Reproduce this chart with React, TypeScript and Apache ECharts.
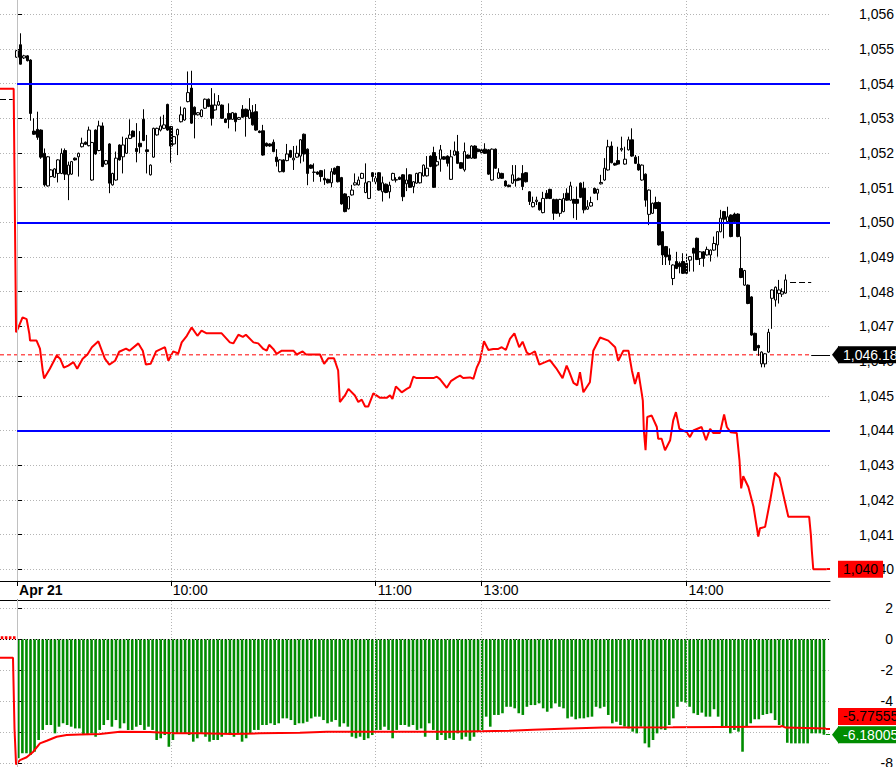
import React, { useEffect, useRef } from 'react';
import * as echarts from 'echarts';

// ---------- DATA ----------
// x slots: one per minute bar, slot 0 = 09:15 (Apr 21), lunch break compressed (13:00 = slot 136)
const slotMin = -5;
const slotMax = 238;
const timeTickSlots = [0, 45, 105, 136, 196];
const timeTickLabels = ['Apr 21', '10:00', '11:00', '13:00', '14:00'];

const priceTicks = [1040, 1041, 1042, 1043, 1044, 1045, 1046, 1047, 1048, 1049, 1050, 1051, 1052, 1053, 1054, 1055, 1056];
const lowerTicks = [2, 0, -2, -4, -6, -8];

const blueLevels = [1054, 1050, 1044];
const refLevel = 1046.18;
const refLabel = '1,046.18';
const lastCandleLevel = 1048.28;
const prevCloseLevel = 1053.56;
const redLastValue = 1040;
const redLastLabel = '1,040';
const lowerRedLast = -5.77555;
const lowerBarLast = -6.18005;

// candles [open, close, low, high], slot 0..225
const candles: number[][] = [
  [1054.76,1054.95,1054.74,1054.97],[1055.12,1054.56,1054.55,1055.45],[1054.74,1054.80,1054.71,1054.83],[1054.80,1054.66,1054.64,1054.82],
  [1054.68,1053.14,1052.93,1054.70],[1052.63,1052.54,1052.52,1053.00],[1052.68,1052.45,1052.38,1053.19],[1052.66,1051.88,1051.83,1052.68],
  [1051.99,1051.08,1051.03,1052.13],[1051.05,1051.89,1051.03,1051.91],[1051.32,1051.51,1051.30,1051.53],[1051.30,1051.54,1051.28,1051.56],
  [1051.41,1051.80,1051.15,1051.82],[1051.41,1051.99,1051.39,1052.13],[1052.07,1051.39,1051.22,1052.13],[1051.37,1051.65,1050.64,1051.75],
  [1051.39,1051.75,1051.37,1051.77],[1051.85,1051.80,1051.78,1051.87],[1051.89,1051.99,1051.32,1052.01],[1052.18,1052.28,1052.16,1052.44],
  [1052.31,1052.25,1052.23,1052.33],[1052.21,1052.66,1052.19,1052.76],[1051.22,1052.30,1051.20,1052.32],[1052.66,1051.97,1051.95,1052.68],
  [1052.07,1052.78,1052.05,1052.93],[1052.78,1051.61,1051.59,1052.88],[1051.68,1051.78,1051.66,1051.80],[1052.26,1051.13,1050.84,1052.28],
  [1051.08,1051.41,1051.06,1051.43],[1051.22,1051.85,1051.20,1052.04],[1052.23,1051.80,1051.78,1052.25],[1051.89,1052.23,1051.41,1052.47],
  [1051.99,1052.42,1051.97,1052.44],[1052.42,1052.52,1052.40,1052.97],[1052.63,1052.47,1052.45,1052.65],[1052.13,1052.04,1051.73,1052.86],
  [1052.28,1052.18,1051.99,1052.63],[1052.97,1052.36,1052.34,1053.26],[1052.09,1052.04,1051.41,1052.52],[1051.37,1051.65,1051.35,1051.67],
  [1051.88,1052.71,1051.86,1052.73],[1052.52,1052.71,1052.50,1052.73],[1052.66,1052.78,1052.62,1053.05],[1052.71,1052.81,1052.69,1053.10],
  [1053.40,1052.66,1052.64,1053.42],[1052.76,1052.20,1051.72,1052.78],[1052.26,1052.47,1052.24,1052.49],[1052.52,1052.68,1051.94,1052.70],
  [1052.90,1053.10,1052.88,1053.34],[1052.95,1053.29,1052.93,1053.31],[1053.48,1053.74,1053.46,1054.35],[1053.87,1052.86,1052.84,1054.37],
  [1053.32,1053.10,1052.42,1053.34],[1053.10,1053.16,1053.08,1053.18],[1053.05,1053.24,1053.03,1053.26],[1053.29,1053.55,1053.27,1053.57],
  [1053.55,1053.34,1053.32,1053.57],[1053.38,1053.00,1052.79,1053.87],[1053.24,1053.38,1053.22,1053.72],[1053.38,1053.48,1053.36,1053.67],
  [1053.38,1053.00,1052.98,1053.40],[1052.98,1052.88,1052.86,1053.00],[1053.14,1052.97,1052.71,1053.43],[1052.97,1053.16,1052.95,1053.18],
  [1053.14,1052.90,1052.62,1053.16],[1052.97,1053.02,1052.95,1053.04],[1053.26,1053.03,1053.01,1053.38],[1053.26,1053.05,1052.47,1053.28],
  [1053.00,1053.24,1052.98,1053.58],[1053.17,1052.81,1052.79,1053.38],[1053.19,1052.66,1052.64,1053.41],[1052.63,1052.59,1052.57,1052.65],
  [1052.64,1051.94,1051.92,1052.81],[1052.28,1052.20,1052.18,1052.30],[1052.26,1052.20,1052.18,1052.28],[1052.31,1052.04,1052.02,1052.39],
  [1051.88,1051.75,1051.61,1052.11],[1051.46,1051.80,1051.44,1051.82],[1051.80,1051.46,1051.44,1051.82],[1051.78,1051.97,1051.76,1052.26],
  [1052.07,1051.88,1051.86,1052.09],[1051.80,1051.85,1051.51,1052.20],[1051.88,1051.99,1051.86,1052.21],
  [1051.91,1052.38,1051.70,1052.40],[1052.54,1051.97,1051.75,1052.56],[1052.11,1051.41,1051.07,1052.13],[1051.65,1051.56,1051.54,1051.67],
  [1051.44,1051.45,1051.17,1051.70],[1051.45,1051.39,1051.37,1051.47],[1051.49,1051.32,1051.17,1051.51],[1051.27,1051.22,1051.08,1051.53],
  [1051.24,1051.14,1051.12,1051.26],[1051.14,1051.46,1051.01,1051.56],[1051.56,1051.39,1051.37,1051.58],[1051.61,1051.17,1051.15,1051.63],
  [1051.29,1050.53,1050.51,1051.31],[1050.82,1050.31,1050.29,1050.84],[1050.39,1050.74,1050.37,1050.76],[1050.79,1050.93,1050.77,1051.08],
  [1051.08,1051.14,1051.06,1051.41],[1051.08,1051.22,1051.06,1051.32],[1051.27,1051.41,1051.25,1051.43],[1050.86,1051.14,1050.84,1051.70],
  [1050.69,1051.17,1050.67,1051.19],[1051.43,1051.32,1051.17,1051.45],[1051.17,1051.27,1051.08,1051.43],[1051.43,1050.93,1050.91,1051.45],
  [1050.88,1051.14,1050.60,1051.32],[1051.10,1050.86,1050.84,1051.12],[1050.88,1051.07,1050.69,1051.17],[1051.22,1051.41,1051.20,1051.43],
  [1051.22,1051.23,1051.15,1051.30],[1051.30,1051.24,1051.22,1051.32],[1051.37,1050.74,1050.61,1051.39],[1051.11,1051.22,1050.90,1051.56],
  [1051.37,1051.01,1050.99,1051.39],[1051.03,1051.17,1050.84,1051.19],[1051.13,1051.41,1051.11,1051.43],[1051.14,1051.43,1051.12,1051.45],
  [1051.34,1051.65,1051.32,1051.67],[1051.34,1051.56,1051.32,1051.91],[1051.91,1051.61,1051.59,1051.93],[1052.01,1051.01,1050.99,1052.18],
  [1051.65,1051.75,1051.61,1051.91],[1051.82,1052.09,1051.46,1052.23],[1051.89,1051.82,1051.80,1051.91],[1051.91,1051.70,1051.61,1051.93],
  [1051.24,1051.89,1051.22,1052.09],[1051.94,1052.06,1051.92,1052.33],[1052.04,1051.70,1051.68,1052.52],[1051.72,1051.56,1051.54,1051.74],
  [1051.51,1052.04,1051.46,1052.30],[1051.94,1051.85,1051.83,1051.96],[1051.85,1052.20,1051.83,1052.22],[1052.20,1051.85,1051.83,1052.22],
  [1052.11,1052.04,1052.02,1052.13],[1052.09,1052.01,1051.99,1052.11],[1052.11,1051.99,1051.97,1052.28],[1052.09,1051.39,1051.37,1052.11],
  [1051.22,1052.11,1051.20,1052.13],[1052.11,1051.56,1051.54,1052.13],[1051.27,1051.43,1051.25,1051.56],[1051.41,1051.27,1051.25,1051.43],
  [1051.19,1051.05,1051.03,1051.21],[1051.07,1051.03,1051.01,1051.09],[1051.13,1051.37,1051.11,1051.65],[1051.24,1051.20,1051.03,1051.65],
  [1051.27,1051.22,1051.20,1051.29],[1051.41,1051.03,1050.93,1051.65],[1051.43,1051.17,1051.15,1051.45],[1050.88,1050.60,1050.50,1050.90],
  [1050.45,1050.57,1050.43,1050.74],[1050.60,1050.64,1050.50,1050.74],[1050.57,1050.36,1050.34,1050.59],[1050.28,1050.69,1050.26,1050.88],
  [1050.84,1050.69,1050.67,1050.93],[1050.95,1050.69,1050.67,1050.97],[1050.66,1050.26,1050.07,1050.68],[1050.66,1050.26,1050.24,1050.68],
  [1050.26,1050.66,1050.16,1050.68],[1050.31,1050.69,1050.29,1050.84],[1050.84,1050.64,1050.62,1050.98],[1050.64,1051.05,1050.62,1051.17],
  [1050.66,1050.55,1050.12,1050.68],[1050.66,1050.55,1050.07,1051.03],
  [1051.13,1050.72,1050.70,1051.15],[1050.98,1050.36,1050.26,1051.17],[1050.38,1050.45,1050.36,1050.64],[1050.47,1050.57,1050.45,1050.74],
  [1050.98,1050.84,1050.82,1051.00],[1050.84,1050.95,1050.64,1050.97],[1051.11,1051.15,1051.09,1051.37],[1051.22,1051.56,1051.20,1051.85],
  [1051.51,1052.18,1051.49,1052.38],[1052.20,1051.72,1051.70,1052.33],[1051.70,1051.65,1051.63,1051.72],[1051.78,1051.68,1051.66,1052.18],
  [1052.09,1052.13,1052.04,1052.47],[1051.68,1051.82,1051.66,1052.18],[1052.09,1052.38,1052.07,1052.47],[1052.38,1051.91,1051.89,1052.71],
  [1051.88,1051.70,1051.68,1051.94],[1051.68,1051.51,1051.49,1051.91],[1051.22,1051.65,1051.20,1051.67],[1051.39,1050.64,1050.45,1051.41],
  [1050.23,1050.93,1049.92,1050.95],[1050.26,1050.55,1050.24,1050.57],[1050.57,1050.40,1050.38,1050.74],[1050.57,1049.35,1049.33,1050.60],
  [1049.73,1049.06,1048.77,1049.75],[1049.30,1049.01,1048.77,1049.32],[1049.06,1048.91,1048.77,1049.25],[1048.38,1048.77,1048.19,1048.79],
  [1048.87,1048.67,1048.65,1049.15],[1048.82,1048.72,1048.53,1048.87],[1048.87,1048.53,1048.51,1049.11],[1048.82,1048.53,1048.51,1049.11],
  [1048.91,1049.01,1048.58,1049.03],[1049.25,1049.11,1048.58,1049.27],[1049.54,1048.93,1048.91,1049.56],[1048.96,1049.15,1048.77,1049.17],
  [1049.15,1048.96,1048.72,1049.17],[1049.06,1049.22,1049.04,1049.30],[1049.06,1049.20,1048.87,1049.22],[1049.20,1049.39,1049.18,1049.59],
  [1049.35,1049.73,1049.01,1049.75],[1049.73,1050.12,1049.71,1050.36],[1050.31,1050.09,1049.54,1050.33],[1050.02,1050.16,1050.00,1050.45],
  [1050.21,1049.59,1049.57,1050.23],[1050.24,1050.02,1050.00,1050.28],[1050.24,1049.59,1049.57,1050.26],[1048.67,1048.41,1048.39,1049.59],
  [1048.19,1048.61,1048.17,1048.63],[1048.19,1047.66,1047.64,1048.21],[1047.85,1046.75,1046.73,1047.87],[1046.80,1046.31,1046.29,1046.82],
  [1046.45,1046.38,1046.15,1046.47],[1045.92,1046.26,1045.82,1046.28],[1045.92,1046.21,1045.82,1046.23],[1046.26,1046.83,1046.24,1046.93],
  [1047.81,1048.05,1046.93,1048.07],[1047.76,1048.13,1047.57,1048.15],[1047.95,1048.05,1047.66,1048.34],[1047.93,1048.00,1047.85,1048.10],
  [1047.96,1048.34,1047.94,1048.50],
];

// red comparison line in the price panel: [slot, value]
const priceRedLine: number[][] = [
  [-5,1053.85],[-1,1053.85],[-0.3,1046.83],[0.4,1046.97],[1.6,1047.26],[2.8,1047.21],[3.6,1046.78],[3.8,1046.59],[5.7,1046.59],
  [6.7,1046.36],[7.5,1045.73],[7.9,1045.50],[9.6,1045.78],[11.6,1046.16],[12.6,1046.07],[13.7,1045.81],[15,1045.87],[16.5,1045.97],
  [17.6,1045.78],[19.2,1046.07],[20.6,1046.19],[21.9,1046.40],[23.8,1046.57],[25.7,1046.07],[27,1045.90],[28.7,1046.01],[29.9,1046.27],
  [31.9,1046.36],[32.9,1046.30],[35.5,1046.51],[36.8,1046.30],[37.7,1045.90],[39.1,1045.92],[40.7,1046.28],[43.3,1046.40],[44.3,1046.01],
  [45.7,1046.28],[47.2,1046.22],[48.2,1046.54],[49.7,1046.73],[51.1,1046.97],[52.8,1046.73],[54,1046.88],[55.5,1046.80],[59.9,1046.80],
  [62.3,1046.54],[63.3,1046.51],[64.8,1046.76],[66.1,1046.70],[67,1046.76],[69.2,1046.54],[70.6,1046.51],[72.1,1046.35],[73.1,1046.30],
  [73.8,1046.47],[75,1046.35],[76,1046.21],[77.5,1046.30],[80.9,1046.30],[81.9,1046.19],[83.6,1046.28],[84.6,1046.19],[88.7,1046.19],
  [89.9,1045.92],[91.1,1046.08],[92.8,1046.08],[94,1045.73],[94.5,1044.82],[96,1045.01],[97,1045.20],[98.9,1045.01],[99.9,1044.82],
  [100.9,1044.89],[101.9,1044.69],[102.8,1044.69],[104.3,1045.07],[106.3,1044.94],[108.2,1044.94],[109.2,1045.01],[109.9,1044.91],
  [110.9,1045.27],[112.6,1045.10],[114.1,1045.20],[115,1045.25],[116,1045.55],[117,1045.51],[121.9,1045.51],[122.9,1045.55],[123.8,1045.48],
  [125.8,1045.23],[127,1045.42],[128.7,1045.53],[129.7,1045.58],[130.6,1045.51],[132.6,1045.53],[133.6,1045.49],[134.6,1045.82],
  [135.5,1046.01],[136.7,1046.57],[138,1046.32],[139.4,1046.35],[140.9,1046.35],[141.9,1046.40],[143.1,1046.32],[144.3,1046.64],
  [145.6,1046.80],[147,1046.40],[148,1046.56],[149.2,1046.25],[150,1046.19],[151.6,1046.28],[152.9,1045.90],[154.6,1045.97],[156,1046.03],
  [157.8,1045.80],[159.7,1045.51],[160.9,1045.87],[161.7,1045.68],[162.9,1045.37],[164,1045.30],[164.8,1045.68],[165.8,1045.10],
  [167.7,1045.39],[168.7,1046.30],[170.7,1046.68],[173.1,1046.59],[175.1,1046.40],[176,1046.01],[177.5,1046.30],[179,1046.30],[180,1045.73],
  [180.9,1045.34],[181.9,1045.68],[182.9,1045.06],[183.2,1044.86],[183.5,1044.00],[184,1043.43],[184.5,1044.39],[185.8,1044.43],
  [187.3,1044.10],[187.7,1043.76],[188.7,1043.76],[189.7,1043.43],[191.2,1043.72],[192.1,1044.29],[192.9,1044.53],[193.9,1044.05],
  [196,1043.95],[197,1043.81],[198,1044.00],[200.4,1044.10],[201.7,1043.72],[202.9,1044.05],[203.8,1043.93],[205.8,1043.93],[207,1044.46],
  [207.8,1044.10],[208.9,1043.95],[210.7,1043.93],[211.5,1043.14],[212,1042.33],[212.6,1042.68],[214.1,1042.37],[215.6,1041.80],
  [217,1040.94],[217.5,1041.18],[219,1041.22],[220.5,1041.99],[221.9,1042.78],[223.2,1042.64],[225.8,1041.51],[231.9,1041.51],
  [232.4,1040.99],[232.7,1040.51],[233.1,1040.00],[237,1040.00],
];

// lower panel: previous-session bars and today's histogram (one bar per category)
const prevBars = [0.2, 0.2, 0.2, 0.2];
const greenBars = [
  -7.70,-7.38,-7.38,-7.49,-7.28,-6.52,-5.87,-5.55,-5.55,-6.09,
  -5.66,-5.44,-5.55,-5.66,-5.77,-5.77,-6.20,-6.20,-6.09,-6.31,
  -5.87,-5.55,-5.23,-5.66,-5.23,-5.77,-5.44,-5.87,-5.87,-5.66,
  -5.55,-5.87,-5.66,-5.87,-6.52,-6.41,-6.20,-6.96,-6.52,-6.09,
  -6.09,-6.09,-6.20,-6.63,-6.41,-6.09,-6.31,-6.63,-6.52,-6.52,
  -6.31,-6.09,-6.20,-6.31,-6.09,-6.63,-6.41,-6.09,-5.87,-5.87,
  -5.55,-5.55,-5.44,-5.55,-5.44,-5.12,-5.12,-5.23,-5.55,-5.44,
  -5.44,-5.34,-5.12,-5.01,-5.01,-5.23,-5.44,-5.34,-5.23,-5.66,
  -5.44,-5.66,-6.31,-6.41,-6.31,-6.52,-6.41,-6.20,-5.87,-5.87,
  -5.66,-5.87,-6.41,-5.87,-5.55,-5.55,-5.66,-5.55,-5.87,-5.77,
  -6.31,-5.44,-5.87,-6.52,-6.20,-6.52,
  -6.41,-6.52,-6.09,-6.48,-6.31,-6.57,-6.31,-5.98,-5.87,-5.01,
  -5.66,-4.90,-4.90,-4.79,-4.37,-4.37,-4.47,-4.79,-4.90,-4.37,
  -4.26,-4.26,-4.15,-4.47,-4.69,-4.47,-4.15,-4.37,-4.47,-5.12,
  -5.01,-5.18,-5.12,-5.12,-5.05,-5.01,-4.37,-4.47,-4.37,-4.90,
  -5.44,-5.34,-5.55,-5.66,-5.77,-5.98,-6.09,-5.66,-6.74,-7.00,
  -6.52,-6.09,-5.83,-5.87,-5.55,-5.12,-4.37,-4.04,-4.10,-4.37,
  -4.79,-4.90,-4.75,-5.01,-5.01,-4.53,-5.01,-5.66,-5.62,-6.09,
  -5.87,-5.98,-7.28,-5.66,-5.44,-5.18,-5.18,-4.90,-4.84,-4.79,
  -5.23,-5.55,-5.66,-6.70,-6.74,-6.74,-6.74,-6.74,-6.74,-6.09,
  -6.09,-6.09,-6.18,
];
const lowerCategoryCount = 204;

// red average line in the lower panel: [slot, value]
const lowerRedLine: number[][] = [
  [-5,-1.19],[-1.2,-1.19],[-0.75,-5.8],[-0.3,-8.1],[0.85,-7.82],[2.8,-7.64],[4.75,-7.28],[6.7,-6.74],[8.7,-6.57],[11.6,-6.31],
  [14.5,-6.2],[18.4,-6.16],[24.3,-6.14],[30.1,-5.98],[38.9,-6.0],[45.6,-6.09],[53.6,-6.09],[63.2,-6.14],[71.1,-6.09],[82.8,-6.05],
  [90.7,-5.98],[126.7,-5.98],[144.3,-5.92],[151,-5.85],[159.4,-5.79],[171.5,-5.72],[192,-5.70],[223.4,-5.66],[224,-5.62],[225,-5.72],
  [236.8,-5.7756],
];

// ---------- STYLE ----------
const FONT = 'Arial, "Liberation Sans", Helvetica, sans-serif';
const RED = '#ff0000';
const BLUE = '#0000ff';
const GREEN = '#008c00';
const GRID_DOT = { color: '#b4b4b4', type: [1, 2] as any, width: 1 };

const slotLabels: string[] = [];
for (let s = slotMin; s <= slotMax; s++) {
  const m = s <= 135 ? 9 * 60 + 15 + s : 13 * 60 + (s - 136);
  const hh = Math.floor(((m % 1440) + 1440) % 1440 / 60);
  const mm = ((m % 60) + 60) % 60;
  slotLabels.push(`${hh}:${String(mm).padStart(2, '0')}#${s}`);
}

const fmtPrice = (v: number) => {
  const s = String(Math.round(v));
  return s.slice(0, s.length - 3) + ',' + s.slice(-3);
};

function verticalLines() {
  return [
    { xAxis: timeTickSlots[0], lineStyle: { color: '#c0c0c0', width: 1, type: 'solid' } },
    ...timeTickSlots.slice(1).map((s) => ({ xAxis: s, lineStyle: { ...GRID_DOT } })),
  ];
}

function boxLabel(text: string, bg: string, fg: string, offsetY = 0) {
  return {
    show: true,
    position: 'end',
    formatter: text,
    backgroundColor: bg,
    color: fg,
    fontFamily: FONT,
    fontSize: 14,
    padding: [2, 5, 1, 5],
    distance: 8,
    offset: [0, offsetY],
  };
}

export default function App() {
  const ref = useRef<HTMLDivElement>(null);

  useEffect(() => {
    const chart = echarts.init(ref.current!, null, { renderer: 'svg' });
    const option: any = {
      animation: false,
      backgroundColor: '#ffffff',
      grid: [
        { left: 0, right: 66, top: 0, height: 581, containLabel: false, outerBoundsMode: 'none' },
        { left: 0, right: 66, top: 600, bottom: 0, containLabel: false, outerBoundsMode: 'none' },
      ],
      xAxis: [
        { type: 'category', gridIndex: 0, data: slotLabels, boundaryGap: false, show: false },
        {
          type: 'value', gridIndex: 0, min: slotMin, max: slotMax, position: 'bottom',
          axisLine: { show: true, lineStyle: { color: '#000', width: 1 } },
          axisTick: { show: true, customValues: timeTickSlots, length: 5, lineStyle: { color: '#000' } },
          axisLabel: {
            customValues: timeTickSlots,
            formatter: (v: number) => {
              const i = timeTickSlots.indexOf(Math.round(v));
              if (i < 0) return '';
              return i === 0 ? `{b|${timeTickLabels[i]}}` : timeTickLabels[i];
            },
            align: 'left', margin: 2, padding: [0, 0, 0, 2],
            color: '#000', fontSize: 14, fontFamily: FONT,
            rich: { b: { fontWeight: 'bold', fontSize: 14, fontFamily: FONT, color: '#000' } },
          },
          splitLine: { show: false },
        },
        {
          type: 'category', gridIndex: 1, boundaryGap: true, show: false,
          data: Array.from({ length: lowerCategoryCount }, (_, i) => String(i)),
        },
        {
          type: 'value', gridIndex: 1, min: slotMin, max: slotMax, position: 'top',
          axisLine: { show: true, lineStyle: { color: '#000', width: 1 } },
          axisTick: { show: false }, axisLabel: { show: false }, splitLine: { show: false },
        },
      ],
      yAxis: [
        {
          type: 'value', gridIndex: 0, position: 'right', min: 1039.66, max: 1056.41, scale: true,
          axisLine: { show: true, lineStyle: { color: '#000', width: 1 } },
          axisTick: { show: true, customValues: priceTicks, length: 5, lineStyle: { color: '#000' } },
          axisLabel: {
            customValues: priceTicks, formatter: fmtPrice, align: 'right', margin: 64,
            color: '#000', fontSize: 14, fontFamily: FONT,
          },
          splitLine: { show: true, lineStyle: { ...GRID_DOT } },
        },
        {
          type: 'value', gridIndex: 1, position: 'right', min: -8.27, max: 2.545,
          axisLine: { show: true, lineStyle: { color: '#000', width: 1 } },
          axisTick: { show: true, customValues: lowerTicks, length: 5, lineStyle: { color: '#000' } },
          axisLabel: {
            customValues: lowerTicks, formatter: (v: number) => String(Math.round(v)), align: 'right', margin: 63,
            color: '#000', fontSize: 14, fontFamily: FONT,
          },
          splitLine: { show: true, lineStyle: { ...GRID_DOT } },
        },
      ],
      series: [
        {
          type: 'line', xAxisIndex: 1, yAxisIndex: 0, name: 'ref',
          data: [[slotMin, refLevel], [232.5, refLevel]],
          showSymbol: false, symbol: 'none', silent: true,
          color: RED,
          lineStyle: { color: RED, width: 1, type: [4, 3] },
          z: 1,
        },
        {
          type: 'candlestick', xAxisIndex: 0, yAxisIndex: 0,
          data: candles.map((c, j) => [j - slotMin, c[0], c[1], c[2], c[3]]),
          encode: { x: 0, y: [1, 2, 3, 4] },
          barWidth: 3,
          itemStyle: {
            color: '#ffffff', color0: '#000000', borderColor: '#000000', borderColor0: '#000000',
            borderColorDoji: '#000000', borderWidth: 1,
          },
        },
        {
          type: 'line', xAxisIndex: 1, yAxisIndex: 0, data: priceRedLine,
          showSymbol: false, symbol: 'none', color: RED, lineStyle: { color: RED, width: 2 }, z: 3,
          markLine: {
            silent: true, symbol: ['none', 'none'], animation: false,
            label: { show: false },
            data: [
              ...verticalLines(),
              ...blueLevels.map((v) => [
                { coord: [0, v], lineStyle: { color: BLUE, width: 2, type: 'solid' } },
                { coord: [slotMax, v] },
              ]),
              [{ coord: [232.5, refLevel], lineStyle: { color: '#000', width: 1, type: 'solid' }, label: boxLabel(refLabel, '#000', '#fff') }, { coord: [slotMax, refLevel] }],
              [{ coord: [226.3, lastCandleLevel], lineStyle: { color: '#000', width: 1, type: [6, 3] } }, { coord: [232.5, lastCandleLevel] }],
              [{ coord: [slotMin, prevCloseLevel], lineStyle: { color: '#000', width: 1, type: [6, 3] } }, { coord: [-1.3, prevCloseLevel] }],
              [{ coord: [237, redLastValue], lineStyle: { color: RED, width: 2, type: 'solid' }, label: boxLabel(redLastLabel, RED, '#000') }, { coord: [slotMax, redLastValue] }],
            ],
          },
        },
        {
          type: 'bar', xAxisIndex: 2, yAxisIndex: 1, barWidth: 2.6,
          data: [
            ...prevBars.map((v) => ({ value: v, itemStyle: { color: RED } })),
            ...greenBars,
          ],
          itemStyle: { color: GREEN },
        },
        {
          type: 'line', xAxisIndex: 3, yAxisIndex: 1, data: lowerRedLine,
          showSymbol: false, symbol: 'none', color: RED, lineStyle: { color: RED, width: 2 }, z: 3,
          markLine: {
            silent: true, symbol: ['none', 'none'], animation: false,
            label: { show: false },
            data: [
              ...verticalLines(),
              [{ coord: [slotMin, 0], lineStyle: { color: '#000', width: 1, type: [1, 2] } }, { coord: [slotMax, 0] }],
              [{ coord: [236.8, lowerRedLast], lineStyle: { color: RED, width: 2, type: 'solid' }, label: boxLabel('-5.77555', RED, '#000', -12) }, { coord: [slotMax, lowerRedLast] }],
              [{ coord: [236.8, lowerBarLast], lineStyle: { color: GREEN, width: 1, type: 'solid' }, label: boxLabel('-6.18005', GREEN, '#fff') }, { coord: [slotMax, lowerBarLast] }],
            ],
          },
        },
      ],
    };
    chart.setOption(option);

    const xR = chart.convertToPixel({ xAxisIndex: 1 } as any, slotMax) as unknown as number;
    const yA = chart.convertToPixel({ yAxisIndex: 0 } as any, refLevel) as unknown as number;
    const yB = chart.convertToPixel({ yAxisIndex: 1 } as any, lowerBarLast) as unknown as number;
    if (typeof xR === 'number' && typeof yA === 'number' && typeof yB === 'number') {
      chart.setOption({
        graphic: [
          { type: 'polygon', z: 100, shape: { points: [[xR + 2, yA], [xR + 9, yA - 9], [xR + 9, yA + 9]] }, style: { fill: '#000' } },
          { type: 'polygon', z: 100, shape: { points: [[xR + 2, yB], [xR + 9, yB - 9], [xR + 9, yB + 9]] }, style: { fill: GREEN } },
        ],
      });
    }

    return () => chart.dispose();
  }, []);

  return (
    <div
      ref={ref}
      style={{ position: 'fixed', left: 0, top: 0, width: 896, height: 767, background: '#fff' }}
    />
  );
}
